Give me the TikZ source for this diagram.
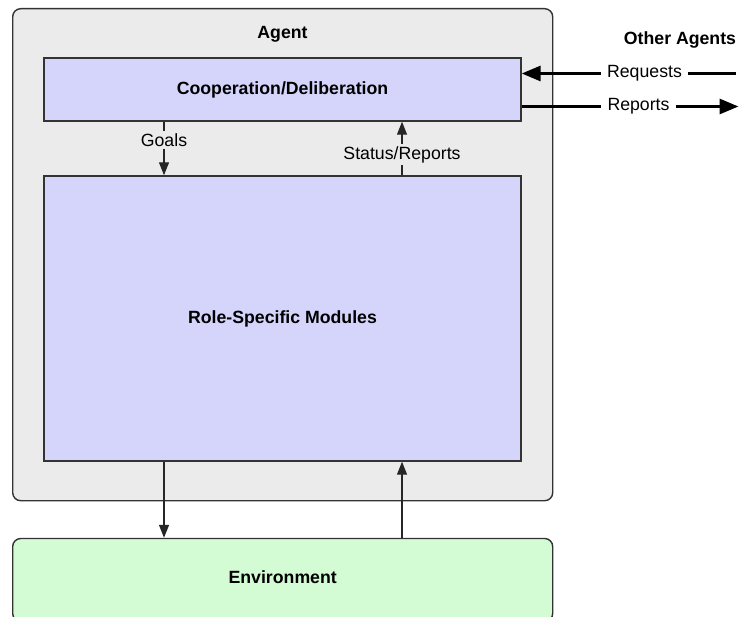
\documentclass[tikz,border=0pt]{standalone}
\usepackage{fontspec}
\setmainfont{Liberation Sans}
\usetikzlibrary{arrows.meta}

\definecolor{agentgray}{RGB}{235,235,235}
\definecolor{modblue}{RGB}{213,213,252}
\definecolor{envgreen}{RGB}{212,252,212}

\begin{document}
\begin{tikzpicture}[x=1pt,y=-1pt,
    font=\fontsize{17.7}{21}\selectfont,
    title/.style={font=\fontsize{17.7}{21}\selectfont\bfseries},
    box/.style={draw=black!80,line width=1.4pt,inner sep=0pt},
    lbl/.style={inner xsep=6pt,inner ysep=2pt},
    link/.style={draw=black!85,line width=1.3pt},
    flow/.style={link,-{Triangle[length=13pt,width=10pt]}},
    msg/.style={line width=3pt},
    msgarrow/.style={msg,-{Triangle[length=19pt,width=15pt]}}]
    \useasboundingbox (0,0) rectangle (739,617);

    % agent box
    \node[box,rounded corners=8pt,fill=agentgray,minimum width=540pt,minimum height=492pt] (agent) at (282.7,254.7) {};
    \node[title,anchor=base] (agentname) at (282.5,39) {Agent};

    % cooperation / deliberation
    \node[box,title,fill=modblue,minimum width=477pt,minimum height=63pt] (coop) at (282.5,89.5) {Cooperation/Deliberation};

    % role specific modules
    \node[box,title,fill=modblue,minimum width=477pt,minimum height=285pt] (role) at (282.5,318.5) {Role-Specific Modules};

    % environment (runs off the bottom edge)
    \node[box,title,rounded corners=8pt,fill=envgreen,minimum width=540pt,minimum height=83pt,text depth=5pt] (env) at (282.7,580) {Environment};

    % goals down, status up
    \node[lbl] (goals) at (164,140) {Goals};
    \draw[link] (goals |- coop.south) -- (goals);
    \draw[flow] (goals) -- (goals |- role.north);

    \node[lbl] (status) at (402,154.5) {Status/Reports};
    \draw[link] (status |- role.north) -- (status);
    \draw[flow] (status) -- (status |- coop.south);

    % lines between modules and environment
    \draw[flow] (role.south -| goals) -- (env.north -| goals);
    \draw[flow] (env.north -| status) -- (role.south -| status);

    % other agents
    \node[title,anchor=base] (others) at (680,45) {Other Agents};

    \node[lbl] (req) at (644.5,73.5) {Requests};
    \coordinate (reqend) at (736,73.5);
    \draw[msg] (reqend) -- (req);
    \draw[msgarrow] (req) -- (req -| coop.east);

    \node[lbl] (rep) at (638.5,106.5) {Reports};
    \coordinate (repend) at (738.5,106.5);
    \draw[msg] (rep -| coop.east) -- (rep);
    \draw[msgarrow] (rep) -- (repend);
\end{tikzpicture}
\end{document}
